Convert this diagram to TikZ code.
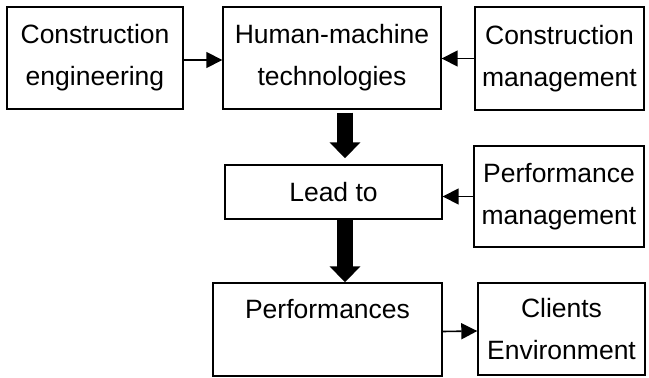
\documentclass[tikz,border=0pt]{standalone}
\usepackage{fontspec}
\setmainfont{Liberation Sans}
\usetikzlibrary{arrows.meta}
\begin{document}
\begin{tikzpicture}[x=1pt,y=1pt,
  box/.style={draw, line width=1.4pt, inner sep=0pt, align=center,
    font=\fontsize{26.5}{42}\selectfont},
  thin/.style={line width=1.6pt, -{Triangle[length=16pt,width=16pt]}},
  bigarrow/.style={line width=16pt, -{Triangle[length=16pt,width=30pt]}}]
\useasboundingbox (0,0) rectangle (649,378);
\node[box, minimum width=176pt, minimum height=102pt] (ce) at (95,320) {Construction\\engineering};
\node[box, minimum width=218pt, minimum height=102pt] (hm) at (332,320) {Human-machine\\technologies};
\node[box, minimum width=169pt, minimum height=103pt] (cm) at (559.5,319.5) {Construction\\management};
\node[box, minimum width=217pt, minimum height=54pt] (lead) at (333.5,186) {Lead to};
\node[box, minimum width=170pt, minimum height=101pt] (pm) at (559,181.5) {Performance\\management};
\node[box, minimum width=229pt, minimum height=93pt] (perf) at (327.5,48.5) {Performances\\\mbox{}};
\node[box, minimum width=167pt, minimum height=92pt] (cl) at (561.5,49) {Clients\\Environment};
\coordinate (ax) at (345,0);
\draw[thin] ([yshift=-2pt]ce.east) -- ([yshift=-2pt]hm.west);
\draw[thin] (cm.west) -- (hm.east |- cm.west);
\draw[thin] (pm.west) -- (lead.east |- pm.west);
\draw[thin] ([yshift=-2pt]perf.east) -- ([yshift=-2pt]cl.west -| cl.west);
\draw[bigarrow] ([yshift=-3pt]ax |- hm.south) -- ([yshift=6pt]ax |- lead.north);
\draw[bigarrow] (ax |- lead.south) -- (ax |- perf.north);
\end{tikzpicture}
\end{document}
